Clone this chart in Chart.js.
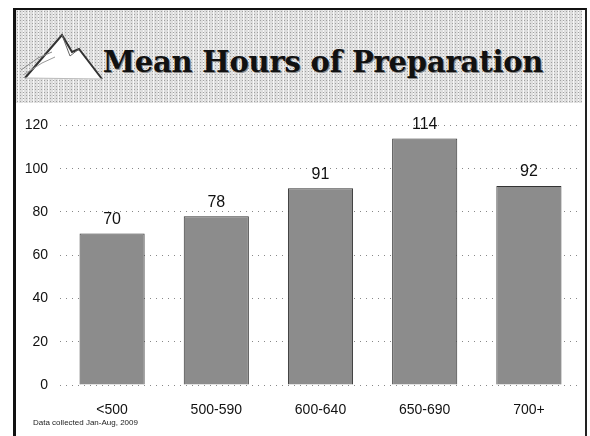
<!DOCTYPE html>
<html>
<head>
<meta charset="utf-8">
<script src="https://cdn.jsdelivr.net/npm/chart.js"></script>
<style>
    body { margin: 0; background: #fff; }
    #page { position: relative; width: 590px; height: 436px; overflow: hidden; background: #fff; }
    #frame { position: absolute; left: 13px; top: 8px; width: 569px; height: 440px; border-left: 3px solid #111; border-top: 2px solid #111; border-right: 2px solid #222; }
    #header {
        position: absolute; left: 16px; top: 10px; width: 566px; height: 93px;
        background-color: #dedede;
        background-image:
            radial-gradient(circle, #a0a0a0 0.5px, transparent 0.8px),
            radial-gradient(circle, #f6f6f6 0.7px, transparent 1px);
        background-size: 3px 3px, 5px 2px;
    }
    #title { position: absolute; left: 90px; top: 45px; width: 466px; text-align: center;
        font-family: "DejaVu Serif", serif; font-weight: bold; font-size: 29px; color: #111; letter-spacing: -0.2px;
        text-shadow: 1px 1px 0 #888; }
    #logo { position: absolute; left: 18px; top: 30px; }
    #chartBox { position: absolute; left: 15px; top: 105px; width: 569px; height: 331px; }
    #note { position: absolute; left: 33px; top: 418px; font-family: "Liberation Sans", Arial, sans-serif; font-size: 8px; color: #222; }
</style>
</head>
<body>
<div id="page">
    <div id="header"></div>
    <div id="frame"></div>
    <svg id="logo" width="90" height="55" viewBox="0 0 90 55">
        <polygon points="7,48 44,5 54,22 61,19 84,49" fill="#fff" />
        <polyline points="7,48 44,5 54,22 61,19 84,49" fill="none" stroke="#333" stroke-width="2" />
        <polyline points="44,5 52,26 61,19" fill="none" stroke="#666" stroke-width="1" />
        <polyline points="3,40 20,28 34,22" fill="none" stroke="#888" stroke-width="1" />
        <polyline points="5,45 24,33 37,27" fill="none" stroke="#999" stroke-width="1" />
        <line x1="7" y1="48" x2="84" y2="49" stroke="#bbb" stroke-width="1" />
    </svg>
    <div id="title">Mean Hours of Preparation</div>
    <div id="chartBox"><canvas id="chart"></canvas></div>
    <div id="note">Data collected Jan-Aug, 2009</div>
</div>
<script>
const categories = ['<500', '500-590', '600-640', '650-690', '700+'];
const meanHours = [70, 78, 91, 114, 92];
const yTicks = [0, 20, 40, 60, 80, 100, 120];

const valueLabels = {
    id: 'valueLabels',
    afterDatasetsDraw(chart) {
        const ctx = chart.ctx;
        const meta = chart.getDatasetMeta(0);
        ctx.save();
        ctx.font = '16px "Liberation Sans", Arial, sans-serif';
        ctx.fillStyle = '#111';
        ctx.textAlign = 'center';
        ctx.textBaseline = 'bottom';
        meta.data.forEach((bar, i) => {
            ctx.fillText(String(meanHours[i]), bar.x, bar.y - 6);
        });
        ctx.restore();
    }
};

new Chart(document.getElementById('chart').getContext('2d'), {
    type: 'bar',
    data: {
        labels: categories,
        datasets: [{
            data: meanHours,
            backgroundColor: '#8c8c8c',
            borderColor: '#333',
            borderWidth: 1,
            barPercentage: 0.625,
            categoryPercentage: 1.0
        }]
    },
    options: {
        responsive: true,
        maintainAspectRatio: false,
        animation: false,
        layout: { padding: { top: 17, right: 3, left: 0, bottom: 0 } },
        plugins: { legend: { display: false }, tooltip: { enabled: false } },
        scales: {
            x: {
                grid: { display: false },
                border: { display: false },
                ticks: {
                    color: '#111',
                    padding: 9,
                    font: { size: 14, family: '"Liberation Sans", Arial, sans-serif' }
                },
                afterFit(scale) { scale.height = 51; }
            },
            y: {
                min: 0,
                max: 120,
                afterBuildTicks(scale) { scale.ticks = yTicks.map(v => ({ value: v })); },
                border: { display: false, dash: [1, 5] },
                grid: {
                    color: '#888',
                    lineWidth: 1,
                    drawTicks: false
                },
                ticks: {
                    color: '#111',
                    padding: 12,
                    font: { size: 14, family: '"Liberation Sans", Arial, sans-serif' }
                },
                afterFit(scale) { scale.width = 45; }
            }
        }
    },
    plugins: [valueLabels]
});
</script>
</body>
</html>
